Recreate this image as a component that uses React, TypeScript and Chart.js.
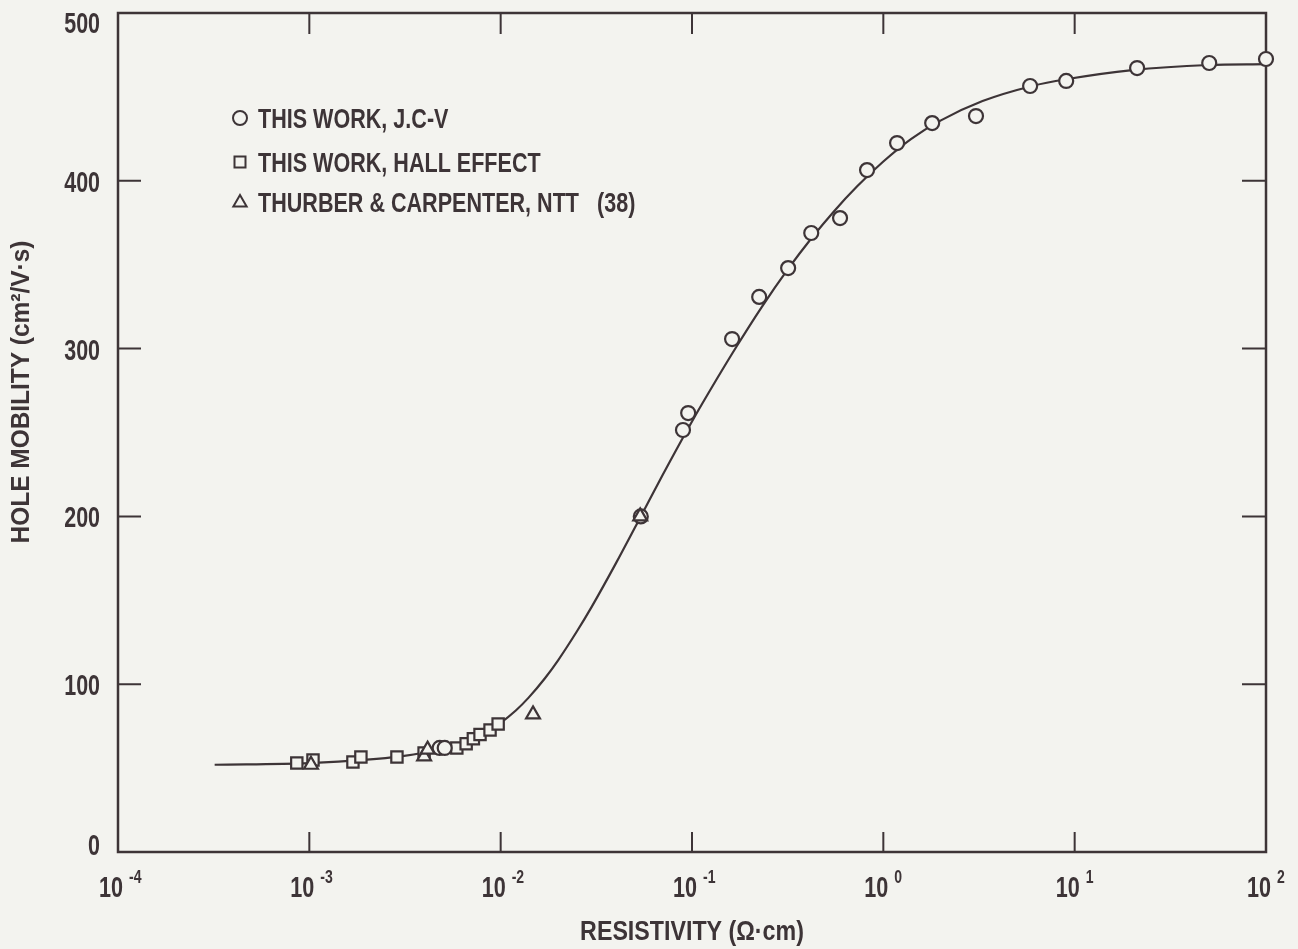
import { useEffect, useRef } from 'react';
import { Chart, registerables } from 'chart.js';

Chart.register(...registerables);

// ---- data ----
const curveX = [3.2e-4, 1e-3, 2e-3, 3e-3, 4e-3, 5e-3, 6e-3, 7e-3, 8e-3, 1e-2, 1.2e-2, 1.4e-2, 1.7e-2, 2e-2, 2.5e-2, 3e-2, 4e-2, 5.4e-2, 7e-2, 0.1, 0.135, 0.17, 0.23, 0.32, 0.42, 0.55, 0.73, 1, 1.4, 2, 3.3, 6, 9, 20, 50, 100];
const curveY = [52, 53, 55, 57, 59.3, 62, 64.5, 67, 70, 77, 84.3, 92, 103.4, 114.4, 131.4, 146.4, 172, 200, 224.4, 256.6, 282, 300.8, 324.3, 347.9, 365.6, 381.6, 396.7, 411.5, 425, 436, 447.5, 456.5, 460.5, 466, 469, 469.5];

const jcvX = [0.0048, 0.0051, 0.054, 0.0897, 0.0955, 0.162, 0.2245, 0.318, 0.42, 0.594, 0.822, 1.18, 1.8, 3.05, 5.85, 9.03, 21.2, 50.5, 100];
const jcvY = [62, 62, 200, 251.5, 261.6, 305.7, 330.8, 348, 368.9, 377.8, 406.4, 422.5, 434.4, 438.6, 456.5, 459.5, 467.2, 470.2, 472.6];

const hallX = [8.6e-4, 1.045e-3, 1.69e-3, 1.86e-3, 2.87e-3, 3.98e-3, 5.9e-3, 6.6e-3, 7.2e-3, 7.8e-3, 8.8e-3, 9.7e-3];
const hallY = [53, 54.8, 53.6, 56.6, 56.6, 59, 62, 64.5, 67.5, 70, 72.7, 76.3];

const thurberX = [1.02e-3, 3.98e-3, 4.15e-3, 0.01476, 0.0536];
const thurberY = [52, 57, 61, 82, 200];

const xTickValues = [1e-4, 1e-3, 1e-2, 1e-1, 1, 10, 100];
const xTickExponents = ['-4', '-3', '-2', '-1', '0', '1', '2'];
const yTickValues = [0, 100, 200, 300, 400, 500];
const yTickLabels = ['0', '100', '200', '300', '400', '500'];

const legendLabels = ['THIS WORK, J.C-V', 'THIS WORK, HALL EFFECT', 'THURBER & CARPENTER, NTT   (38)'];
const xTitle = 'RESISTIVITY (\u03A9\u00B7cm)';
const yTitle = 'HOLE MOBILITY (cm\u00B2/V\u00B7s)';

// ---- styles ----
const BG = '#f3f3ef';
const INK = '#3d3437';
const FONT = '"Liberation Sans", Arial, sans-serif';

function drawText(ctx: CanvasRenderingContext2D, text: string, x: number, y: number, font: string, sx: number, align: CanvasTextAlign) {
  ctx.save();
  ctx.translate(x, y);
  ctx.scale(sx, 1);
  ctx.font = font;
  ctx.textAlign = align;
  ctx.textBaseline = 'alphabetic';
  ctx.fillStyle = INK;
  ctx.fillText(text, 0, 0);
  ctx.restore();
}

function marker(ctx: CanvasRenderingContext2D, style: string, x: number, y: number, r: number) {
  ctx.save();
  ctx.strokeStyle = INK;
  ctx.lineWidth = 2;
  ctx.fillStyle = BG;
  ctx.beginPath();
  if (style === 'circle') {
    ctx.arc(x, y, r, 0, Math.PI * 2);
  } else if (style === 'rect') {
    ctx.rect(x - r, y - r, 2 * r, 2 * r);
  } else {
    ctx.moveTo(x, y - r);
    ctx.lineTo(x + r * 0.95, y + r * 0.65);
    ctx.lineTo(x - r * 0.95, y + r * 0.65);
    ctx.closePath();
  }
  ctx.fill();
  ctx.stroke();
  ctx.restore();
}

const decorPlugin = {
  id: 'decor',
  beforeDraw(chart: any) {
    const ctx = chart.ctx as CanvasRenderingContext2D;
    ctx.save();
    ctx.fillStyle = BG;
    ctx.fillRect(0, 0, chart.width, chart.height);
    ctx.restore();
  },
  beforeDatasetsDraw(chart: any) {
    const ctx = chart.ctx as CanvasRenderingContext2D;
    const { left, right, top, bottom } = chart.chartArea;
    const xs = chart.scales.x;
    const ys = chart.scales.y;
    ctx.save();
    ctx.strokeStyle = INK;
    ctx.lineWidth = 2.5;
    ctx.strokeRect(left, top, right - left, bottom - top);
    ctx.lineWidth = 2;
    ctx.beginPath();
    xTickValues.forEach((v) => {
      const px = xs.getPixelForValue(v);
      ctx.moveTo(px, bottom);
      ctx.lineTo(px, bottom - 20);
      ctx.moveTo(px, top);
      ctx.lineTo(px, top + 21);
    });
    yTickValues.forEach((v) => {
      const py = ys.getPixelForValue(v);
      ctx.moveTo(left, py);
      ctx.lineTo(left + 23, py);
      ctx.moveTo(right, py);
      ctx.lineTo(right - 24, py);
    });
    ctx.stroke();
    ctx.restore();
  },
  afterDraw(chart: any) {
    const ctx = chart.ctx as CanvasRenderingContext2D;
    const { left, right, bottom } = chart.chartArea;
    const xs = chart.scales.x;
    const ys = chart.scales.y;
    // y tick labels
    yTickValues.forEach((v, i) => {
      const py = ys.getPixelForValue(v);
      let base = py + 11;
      if (i === 0) base = py + 3;
      if (i === yTickValues.length - 1) base = py + 20;
      drawText(ctx, yTickLabels[i], left - 18, base, `bold 29px ${FONT}`, 0.74, 'right');
    });
    // x tick labels
    xTickValues.forEach((v, i) => {
      const px = xs.getPixelForValue(v);
      drawText(ctx, '10', px + 5, bottom + 45, `bold 30px ${FONT}`, 0.72, 'right');
      drawText(ctx, xTickExponents[i], px + 11, bottom + 31, `bold 18px ${FONT}`, 0.78, 'left');
    });
    // x title
    drawText(ctx, xTitle, (left + right) / 2, bottom + 88, `bold 27px ${FONT}`, 0.86, 'center');
    // y title
    ctx.save();
    ctx.translate(29, 392);
    ctx.rotate(-Math.PI / 2);
    drawText(ctx, yTitle, 0, 0, `bold 26px ${FONT}`, 0.94, 'center');
    ctx.restore();
    // legend
    const styles = ['circle', 'rect', 'triangle'];
    const rowY = [118, 162, 202];
    legendLabels.forEach((t, i) => {
      marker(ctx, styles[i], 240, rowY[i], styles[i] === 'rect' ? 5.5 : 7);
      drawText(ctx, t, 258, rowY[i] + 10, `bold 28px ${FONT}`, 0.77, 'left');
    });
  },
};

function pts(xs: number[], ys: number[]) {
  return xs.map((x, i) => ({ x, y: ys[i] }));
}

export default function App() {
  const ref = useRef<HTMLCanvasElement>(null);
  useEffect(() => {
    if (!ref.current) return;
    const chart = new Chart(ref.current, {
      type: 'scatter',
      data: {
        datasets: [
          {
            label: legendLabels[0],
            data: pts(jcvX, jcvY),
            pointStyle: 'circle',
            pointRadius: 7,
            borderWidth: 2.2,
            borderColor: INK,
            backgroundColor: BG,
            showLine: false,
            clip: false,
            order: 1,
          } as any,
          {
            label: legendLabels[1],
            data: pts(hallX, hallY),
            pointStyle: 'rect',
            pointRadius: 8,
            borderWidth: 2.2,
            borderColor: INK,
            backgroundColor: BG,
            showLine: false,
            clip: false,
            order: 2,
          } as any,
          {
            label: legendLabels[2],
            data: pts(thurberX, thurberY),
            pointStyle: 'triangle',
            pointRadius: 8,
            borderWidth: 2.2,
            borderColor: INK,
            backgroundColor: BG,
            showLine: false,
            clip: false,
            order: 0,
          } as any,
          {
            label: 'fit',
            data: pts(curveX, curveY),
            showLine: true,
            pointRadius: 0,
            borderWidth: 2.2,
            borderColor: INK,
            backgroundColor: INK,
            fill: false,
            cubicInterpolationMode: 'monotone',
            order: 10,
          } as any,
        ],
      },
      options: {
        animation: false,
        responsive: false,
        layout: { padding: { left: 118, top: 13, right: 32, bottom: 97 } },
        scales: {
          x: { type: 'logarithmic', min: 1e-4, max: 100, display: false },
          y: { type: 'linear', min: 0, max: 500, display: false },
        },
        plugins: { legend: { display: false }, tooltip: { enabled: false } },
      },
      plugins: [decorPlugin],
    });
    return () => chart.destroy();
  }, []);
  return (
    <div style={{ position: 'fixed', left: 0, top: 0, width: 1298, height: 949, background: BG }}>
      <canvas ref={ref} width={1298} height={949} style={{ display: 'block' }} />
    </div>
  );
}
